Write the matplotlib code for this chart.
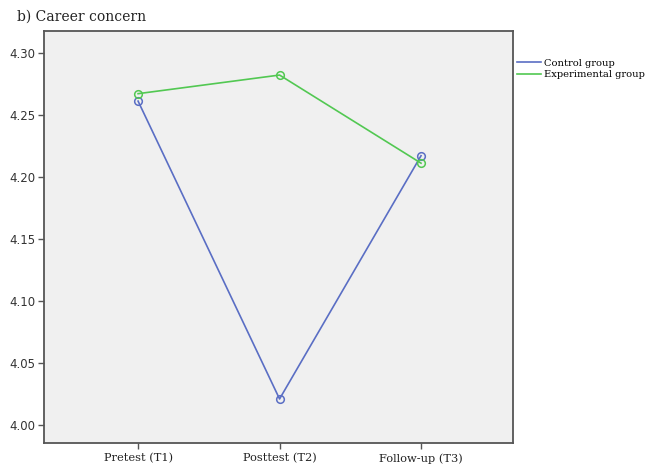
import matplotlib.pyplot as plt
import numpy as np

# Mean career concern scores at each measurement point
phases = ['Pretest (T1)', 'Posttest (T2)', 'Follow-up (T3)']
control = [4.261, 4.021, 4.217]
experimental = [4.267, 4.282, 4.211]
yticks = [4.00, 4.05, 4.10, 4.15, 4.20, 4.25, 4.30]

x = np.arange(len(phases))
serif = 'DejaVu Serif'

fig = plt.figure(figsize=(6.51, 4.65), dpi=100)
ax = fig.add_axes([44/651, 1 - 443/465, (513-44)/651, (443-31)/465])
ax.set_facecolor('#f0f0f0')

ax.plot(x, control, color='#5a6ec4', lw=1.2, marker='o', ms=5.5,
        mfc='none', mew=1.1, label='Control group')
ax.plot(x, experimental, color='#52c852', lw=1.2, marker='o', ms=5.5,
        mfc='none', mew=1.1, label='Experimental group')

ax.set_xlim(-0.665, 2.65)
ax.set_ylim(3.9855, 4.3175)
ax.set_xticks(x)
ax.set_xticklabels(phases, family=serif, fontsize=8.2, color='#222222')
ax.set_yticks(yticks)
ax.set_yticklabels([f'{v:.2f}' for v in yticks], fontsize=8.5, color='#333333')

for s in ax.spines.values():
    s.set_color('#555555')
    s.set_linewidth(1.3)
ax.tick_params(direction='out', length=4, width=1, color='#555555')
ax.tick_params(axis='y', pad=2)

fig.text(17/651, 1 - 21/465, 'b) Career concern', family=serif,
         fontsize=10, color='#222222')

leg = ax.legend(loc='upper left', bbox_to_anchor=(0.995, 0.947), frameon=False,
                prop={'family': serif, 'size': 7.1},
                handlelength=2.5, handletextpad=0.3, labelspacing=0.25,
                borderaxespad=0.2)
for h in leg.legend_handles:
    h.set_marker('')

fig.savefig('out.png', dpi=100)
